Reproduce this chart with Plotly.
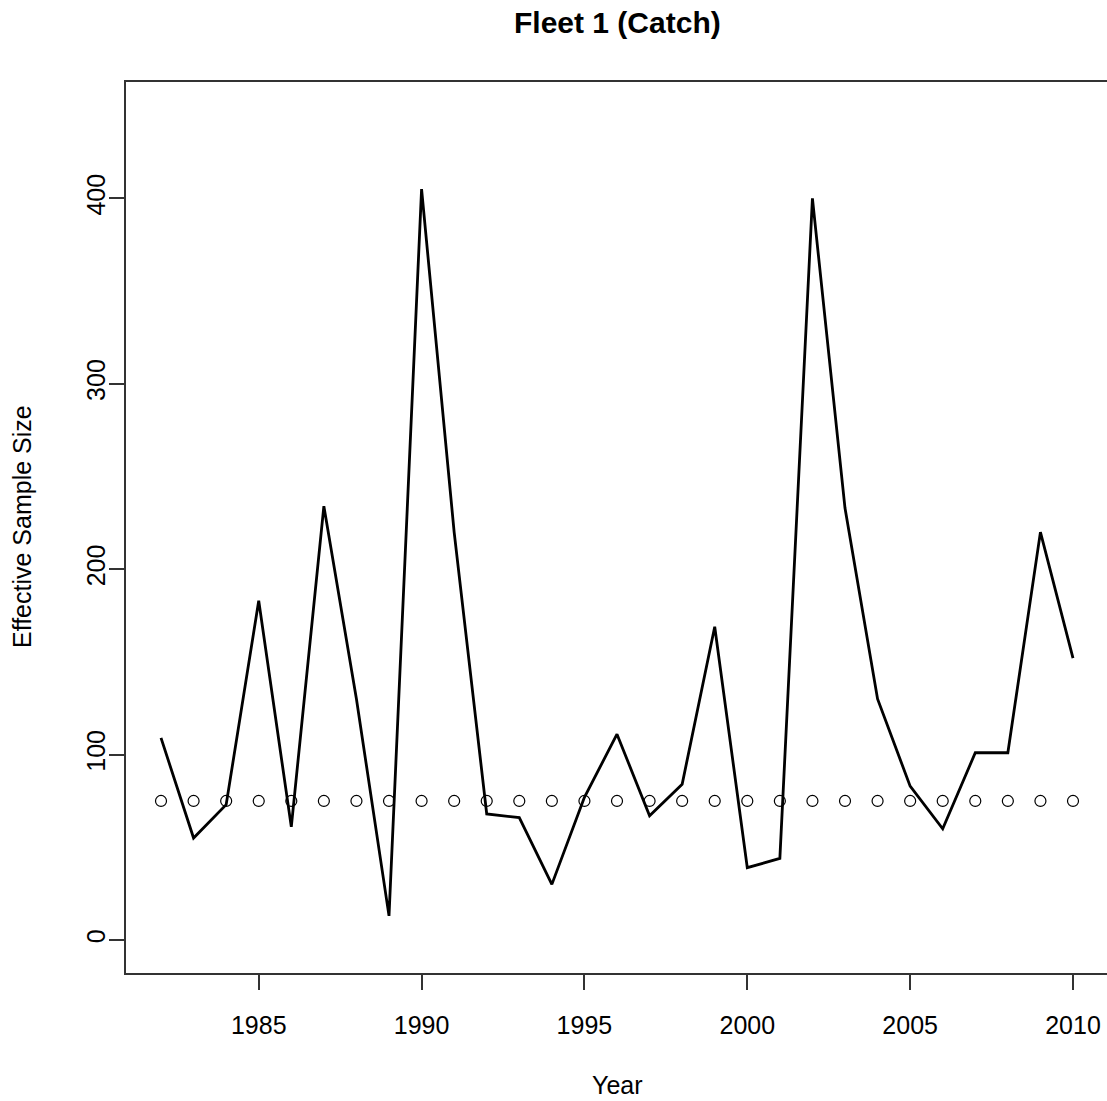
import plotly.graph_objects as go

years = list(range(1982, 2011))
effective_n = [109, 55, 73, 183, 61, 234, 130, 13, 405, 220, 68, 66, 30, 77, 111,
               67, 84, 169, 39, 44, 400, 233, 130, 83, 60, 101, 101, 220, 152]
input_n = [75] * len(years)

x_ticks = [1985, 1990, 1995, 2000, 2005, 2010]
y_ticks = [0, 100, 200, 300, 400]

W, H = 1107, 1101
L, R, T, B = 126, 0, 82, 128
pw = W - L - R
ph = H - T - B

fig = go.Figure()
fig.add_trace(go.Scatter(x=years, y=effective_n, mode="lines",
                         line=dict(color="black", width=2.8), showlegend=False))
fig.add_trace(go.Scatter(x=years, y=input_n, mode="markers",
                         marker=dict(symbol="circle-open", size=11, color="black",
                                     line=dict(width=1.2, color="black")),
                         showlegend=False))

font = "Liberation Sans, Arial, sans-serif"
fig.update_layout(
    width=W, height=H,
    margin=dict(l=L, r=R, t=T, b=B, pad=0),
    plot_bgcolor="white", paper_bgcolor="white",
    font=dict(family=font, size=25, color="black"),
    xaxis=dict(range=[1980.925, 2011.044], tickvals=x_ticks, showgrid=False, zeroline=False,
               showline=True, linecolor="#333", linewidth=1.5, mirror=True,
               ticks="outside", ticklen=15, tickwidth=1.5, tickcolor="#333",
               tickfont=dict(size=25, family=font), ticklabelstandoff=14),
    yaxis=dict(range=[-17.8, 462.8], tickvals=y_ticks, showgrid=False, zeroline=False,
               showline=True, linecolor="#333", linewidth=1.5, mirror=False,
               ticks="outside", ticklen=15, tickwidth=1.5, tickcolor="#333",
               tickangle=-90, tickfont=dict(size=25, family=font), ticklabelstandoff=-6),
    annotations=[
        dict(text="<b>Fleet 1 (Catch)</b>", xref="paper", yref="paper",
             x=(617 - L) / pw, y=(H - B - 22) / ph, showarrow=False,
             font=dict(size=30, family=font), xanchor="center", yanchor="middle"),
        dict(text="Year", xref="paper", yref="paper",
             x=(617 - L) / pw, y=(H - B - 1085) / ph, showarrow=False,
             font=dict(size=25, family=font), xanchor="center", yanchor="middle"),
        dict(text="Effective Sample Size", xref="paper", yref="paper",
             x=(22 - L) / pw, y=(H - B - 527) / ph, showarrow=False, textangle=-90,
             font=dict(size=25, family=font), xanchor="center", yanchor="middle"),
    ],
)

fig.write_html("out.html", config={"displayModeBar": False},
               post_script="document.body.style.margin='0px';")
